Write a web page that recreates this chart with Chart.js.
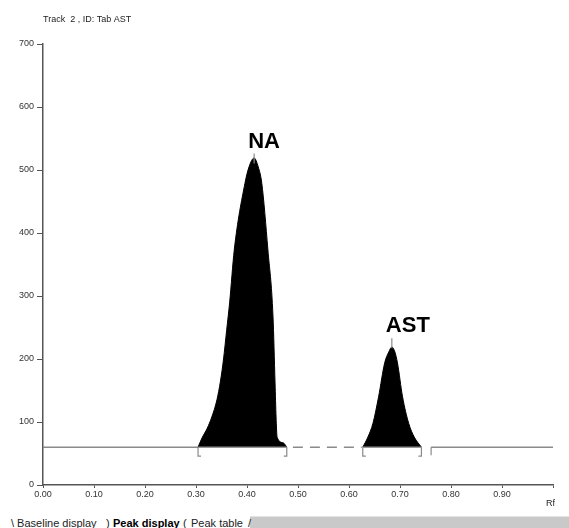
<!DOCTYPE html>
<html>
<head>
<meta charset="utf-8">
<script src="https://cdn.jsdelivr.net/npm/chart.js@4.4.0/dist/chart.umd.min.js"></script>
<style>
  body { margin: 0; background: #fff; }
  #wrap { position: relative; width: 569px; height: 528px; overflow: hidden; }
  #plot { position: absolute; left: 0; top: 0; width: 569px; height: 512px; }
  #tabs { position: absolute; left: 0; top: 514px; width: 569px; height: 14px;
          font: 11px "Liberation Sans", Arial, sans-serif; color: #222; white-space: nowrap; }
  #tabs span { position: absolute; top: 3px; }
  #tabs .on { font-weight: bold; color: #000; }
  #tabs .bar { position: absolute; left: 250px; top: 2px; right: 0; height: 14px;
               background: #c9c9c9; border-top: 1px solid #e4e4e4; }
</style>
</head>
<body>
<div id="wrap">
  <div id="plot"><canvas id="chart"></canvas></div>
  <div id="tabs">
    <div class="bar"></div>
    <span style="left:11px">\ Baseline display</span>
    <span style="left:106px">)</span>
    <span class="on" style="left:113px">Peak display</span>
    <span style="left:183px">(</span>
    <span style="left:191px">Peak table</span>
    <span style="left:248px">/</span>
  </div>
</div>
<script>
const titleText = 'Track  2 , ID: Tab AST';
const axisLabel = 'Rf';
const yTicks = [0, 100, 200, 300, 400, 500, 600, 700];
const baselineLevel = 60;

// peak NA
const naRf = [0.304, 0.312, 0.322, 0.331, 0.341, 0.348, 0.354, 0.360, 0.366, 0.375, 0.396, 0.404, 0.414,
              0.422, 0.429, 0.441, 0.451, 0.455, 0.457, 0.459, 0.471, 0.478];
const naSignal = [60, 75, 90, 108, 135, 165, 200, 245, 290, 373, 479, 505, 519,
                  505, 479, 373, 267, 162, 108, 76, 67, 60];

// peak AST
const astRf = [0.627, 0.637, 0.647, 0.658, 0.670, 0.678, 0.684, 0.690, 0.695, 0.705, 0.717, 0.728, 0.742];
const astSignal = [60, 76, 98, 140, 194, 211, 219, 211, 194, 140, 98, 76, 60];

const peakNames = ['NA', 'AST'];
const peakRf = [0.414, 0.684];
const peakTop = [526, 233];
const peakStart = [0.304, 0.627];
const peakEnd = [0.478, 0.742];

// baseline pieces outside the peaks
const baseSolidA = [0, 0.304];
const baseDashed = [0.49, 0.625];
const baseSolidB = [0.761, 1.0];

const pts = (xs, ys) => xs.map((x, i) => ({ x: x, y: ys[i] }));
const flat = xs => xs.map(x => ({ x: x, y: baselineLevel }));

const grey = '#8a8a8a';
const axisColor = '#555';

const peakStyle = {
  borderColor: '#000', backgroundColor: '#000', borderWidth: 1,
  fill: { value: baselineLevel }, pointRadius: 0, cubicInterpolationMode: 'monotone'
};
const lineStyle = { borderColor: grey, borderWidth: 1.5, pointRadius: 0, fill: false };

const annotate = {
  id: 'annotate',
  afterDatasetsDraw(chart) {
    const { ctx, chartArea, scales: { x, y } } = chart;
    ctx.save();
    ctx.strokeStyle = grey;
    ctx.lineWidth = 1.2;
    const yb = y.getPixelForValue(baselineLevel);
    // baseline under peaks and brackets
    for (let i = 0; i < peakStart.length; i++) {
      const xs = x.getPixelForValue(peakStart[i]);
      const xe = x.getPixelForValue(peakEnd[i]);
      ctx.beginPath();
      ctx.moveTo(xs, yb); ctx.lineTo(xe, yb);
      ctx.moveTo(xs + 3, yb + 9); ctx.lineTo(xs, yb + 9); ctx.lineTo(xs, yb);
      ctx.moveTo(xe - 3, yb + 9); ctx.lineTo(xe, yb + 9); ctx.lineTo(xe, yb);
      ctx.stroke();
    }
    const xb = x.getPixelForValue(baseSolidB[0]);
    ctx.beginPath();
    ctx.moveTo(xb, yb + 8); ctx.lineTo(xb, yb);
    ctx.stroke();
    // apex spikes and peak names
    ctx.fillStyle = '#000';
    ctx.font = 'bold 22px "Liberation Sans", Arial, sans-serif';
    ctx.textAlign = 'left';
    ctx.textBaseline = 'alphabetic';
    for (let i = 0; i < peakNames.length; i++) {
      const px = x.getPixelForValue(peakRf[i]);
      const py = y.getPixelForValue(peakTop[i]);
      ctx.beginPath();
      ctx.moveTo(px, py); ctx.lineTo(px, py + 10);
      ctx.stroke();
      ctx.fillText(peakNames[i], px - 6, py - 6);
    }
    // title and axis label
    ctx.fillStyle = '#222';
    ctx.font = '9px "Liberation Sans", Arial, sans-serif';
    ctx.textBaseline = 'middle';
    ctx.fillText(titleText, chartArea.left, 20);
    ctx.fillText(axisLabel, chartArea.right - 7, chartArea.bottom + 19);
    ctx.restore();
  }
};

new Chart(document.getElementById('chart'), {
  type: 'line',
  data: {
    datasets: [
      Object.assign({ data: pts(naRf, naSignal) }, peakStyle),
      Object.assign({ data: pts(astRf, astSignal) }, peakStyle),
      Object.assign({ data: flat(baseSolidA) }, lineStyle),
      Object.assign({ data: flat(baseDashed), borderDash: [10, 7] }, lineStyle),
      Object.assign({ data: flat(baseSolidB) }, lineStyle)
    ]
  },
  options: {
    responsive: true,
    maintainAspectRatio: false,
    animation: false,
    layout: { padding: { left: 0, right: 16, top: 44, bottom: 0 } },
    plugins: { legend: { display: false }, tooltip: { enabled: false } },
    scales: {
      x: {
        type: 'linear', min: 0, max: 1,
        afterFit(scale) { scale.height = 27; },
        border: { color: axisColor, width: 1.5 },
        grid: { drawOnChartArea: false, color: axisColor, tickLength: 3 },
        ticks: {
          stepSize: 0.1, color: '#333', padding: 1, maxRotation: 0,
          font: { size: 9, family: '"Liberation Sans", Arial, sans-serif' },
          callback: v => (v < 0.95 ? v.toFixed(2) : '')
        }
      },
      y: {
        min: 0, max: 700,
        afterFit(scale) { scale.width = 43; },
        afterBuildTicks(scale) { scale.ticks = yTicks.map(v => ({ value: v })); },
        border: { color: axisColor, width: 1.5 },
        grid: { drawOnChartArea: false, color: axisColor, tickLength: 6 },
        ticks: {
          color: '#333', padding: 3,
          font: { size: 9, family: '"Liberation Sans", Arial, sans-serif' }
        }
      }
    }
  },
  plugins: [annotate]
});
</script>
</body>
</html>
